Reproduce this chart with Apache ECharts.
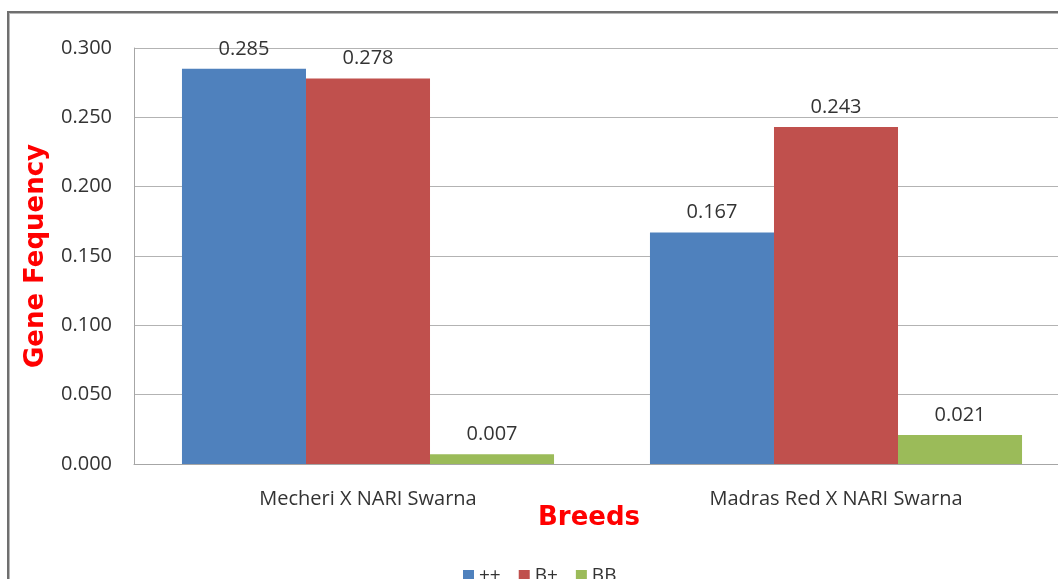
<!DOCTYPE html>
<html>
<head>
<meta charset="utf-8">
<script src="https://cdn.jsdelivr.net/npm/echarts@6/dist/echarts.min.js"></script>
<style>
  html, body { margin: 0; padding: 0; background: #fff; overflow: hidden; }
  #frame { position: absolute; left: 7px; top: 11px; width: 1200px; height: 700px;
           border-left: 2px solid #6f6f6f; border-top: 2px solid #6f6f6f;
           box-shadow: inset 1px 1px 0 #b8b8b8; }
  #chart { position: absolute; left: 0; top: 0; width: 1100px; height: 600px; }
</style>
</head>
<body>
<div id="frame"></div>
<div id="chart"></div>
<script>
// Gene frequency per breed cross, for each genotype
const breeds = ['Mecheri X NARI Swarna', 'Madras Red X NARI Swarna'];
const genotypes = ['++', 'B+', 'BB'];
const plusPlus = [0.285, 0.167];
const bPlus = [0.278, 0.243];
const bb = [0.007, 0.021];
const colors = ['#4F81BD', '#C0504D', '#9BBB59'];

const seriesValues = [plusPlus, bPlus, bb];
const font = '"Open Sans", "Noto Sans", sans-serif';
const titleFont = '"DejaVu Sans", Verdana, sans-serif';

const chart = echarts.init(document.getElementById('chart'), null, { renderer: 'canvas' });
chart.setOption({
  animation: false,
  color: colors,
  grid: { left: 134, right: 30, top: 48, bottom: 136 },
  legend: {
    data: genotypes,
    left: 458,
    top: 561,
    itemWidth: 11,
    itemHeight: 11,
    itemGap: 18,
    icon: 'rect',
    textStyle: { fontFamily: font, fontSize: 19, color: '#333' }
  },
  xAxis: {
    type: 'category',
    data: breeds,
    name: 'Breeds',
    nameLocation: 'middle',
    nameGap: 41,
    nameMoveOverlap: false,
    nameTextStyle: { color: '#ff0000', fontWeight: 'bold', fontSize: 26,
                     fontFamily: titleFont, padding: [0, 26, 0, 0] },
    axisLine: { lineStyle: { color: '#a6a6a6', width: 1 } },
    axisTick: { show: false },
    axisLabel: { color: '#333', fontSize: 20, fontFamily: font, margin: 25 }
  },
  yAxis: {
    type: 'value',
    min: 0,
    max: 0.3,
    interval: 0.05,
    name: 'Gene Fequency',
    nameLocation: 'middle',
    nameGap: 85,
    nameMoveOverlap: false,
    nameTextStyle: { color: '#ff0000', fontWeight: 'bold', fontSize: 26,
                     fontFamily: titleFont },
    axisLine: { show: true, lineStyle: { color: '#a6a6a6', width: 1 } },
    axisTick: { show: false },
    splitLine: { lineStyle: { color: '#b3b3b3', width: 1 } },
    axisLabel: { color: '#333', fontSize: 20, fontFamily: font, margin: 22,
                 formatter: v => v.toFixed(3) }
  },
  series: seriesValues.map((vals, i) => ({
    name: genotypes[i],
    type: 'bar',
    data: vals,
    barGap: '0%',
    barCategoryGap: '20.5%',
    label: {
      show: true,
      position: 'top',
      distance: 10,
      color: '#333',
      fontSize: 20,
      fontFamily: font,
      formatter: p => p.value.toFixed(3)
    }
  }))
});
</script>
</body>
</html>
